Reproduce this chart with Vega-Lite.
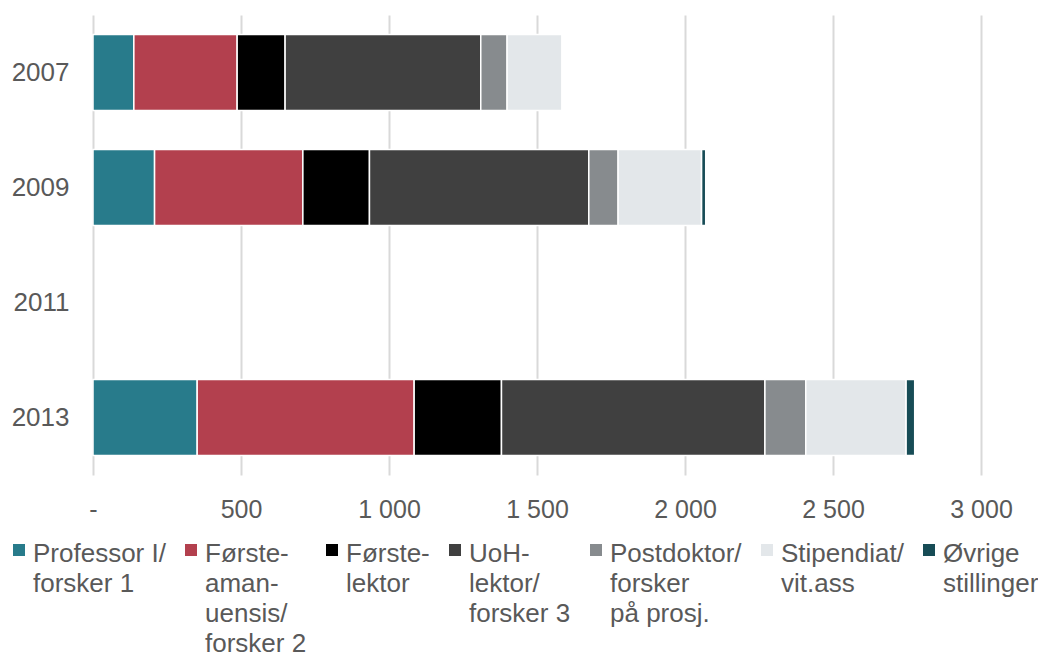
{
  "$schema": "https://vega.github.io/schema/vega-lite/v6.json",
  "autosize": {"type": "none"},
  "padding": {"left": 93, "top": 15, "right": 57, "bottom": 178},
  "width": 888,
  "height": 460,
  "background": "white",
  "data": {"values": [
    {"aar": "2007", "stilling": "Professor I/|forsker 1", "k": 1, "antall": 138},
    {"aar": "2007", "stilling": "Første-|aman-|uensis/|forsker 2", "k": 2, "antall": 349},
    {"aar": "2007", "stilling": "Første-|lektor", "k": 3, "antall": 162},
    {"aar": "2007", "stilling": "UoH-|lektor/|forsker 3", "k": 4, "antall": 661},
    {"aar": "2007", "stilling": "Postdoktor/|forsker|på prosj.", "k": 5, "antall": 89},
    {"aar": "2007", "stilling": "Stipendiat/|vit.ass", "k": 6, "antall": 185},
    {"aar": "2009", "stilling": "Professor I/|forsker 1", "k": 1, "antall": 208},
    {"aar": "2009", "stilling": "Første-|aman-|uensis/|forsker 2", "k": 2, "antall": 501},
    {"aar": "2009", "stilling": "Første-|lektor", "k": 3, "antall": 225},
    {"aar": "2009", "stilling": "UoH-|lektor/|forsker 3", "k": 4, "antall": 741},
    {"aar": "2009", "stilling": "Postdoktor/|forsker|på prosj.", "k": 5, "antall": 99},
    {"aar": "2009", "stilling": "Stipendiat/|vit.ass", "k": 6, "antall": 282},
    {"aar": "2009", "stilling": "Øvrige|stillinger", "k": 7, "antall": 14},
    {"aar": "2013", "stilling": "Professor I/|forsker 1", "k": 1, "antall": 352},
    {"aar": "2013", "stilling": "Første-|aman-|uensis/|forsker 2", "k": 2, "antall": 733},
    {"aar": "2013", "stilling": "Første-|lektor", "k": 3, "antall": 295},
    {"aar": "2013", "stilling": "UoH-|lektor/|forsker 3", "k": 4, "antall": 890},
    {"aar": "2013", "stilling": "Postdoktor/|forsker|på prosj.", "k": 5, "antall": 138},
    {"aar": "2013", "stilling": "Stipendiat/|vit.ass", "k": 6, "antall": 339},
    {"aar": "2013", "stilling": "Øvrige|stillinger", "k": 7, "antall": 29}
  ]},
  "mark": {"type": "bar", "stroke": "white", "strokeWidth": 1.5},
  "encoding": {
    "y": {
      "field": "aar", "type": "nominal",
      "scale": {"domain": ["2007", "2009", "2011", "2013"], "paddingInner": 0.34, "paddingOuter": 0.17},
      "axis": {"title": null, "domain": false, "ticks": false, "labelPadding": 24, "labelOffset": 9, "labelFontSize": 26, "labelColor": "#595959", "labelFont": "Liberation Sans"}
    },
    "x": {
      "field": "antall", "type": "quantitative", "stack": "zero",
      "scale": {"domain": [0, 3000], "nice": false},
      "axis": {"title": null, "values": [0, 500, 1000, 1500, 2000, 2500, 3000], "labelExpr": "datum.value == 0 ? '-' : replace(format(datum.value, ','), ',', ' ')", "labelFlush": false, "domain": false, "ticks": false, "grid": true, "gridColor": "#D9D9D9", "gridWidth": 2, "labelPadding": 31, "labelFontSize": 25, "labelColor": "#595959", "labelFont": "Liberation Sans"}
    },
    "color": {
      "field": "stilling", "type": "nominal",
      "scale": {
        "domain": ["Professor I/|forsker 1", "Første-|aman-|uensis/|forsker 2", "Første-|lektor", "UoH-|lektor/|forsker 3", "Postdoktor/|forsker|på prosj.", "Stipendiat/|vit.ass", "Øvrige|stillinger"],
        "range": ["#287B8B", "#B3404E", "#000000", "#404040", "#878B8E", "#E3E7EA", "#174C56"]
      },
      "legend": {
        "title": null, "orient": "none", "legendX": -87, "legendY": 522, "direction": "horizontal", "columns": 7,
        "labelExpr": "slice(split(datum.label + '| | | ', '|'), 0, 4)",
        "labelFontSize": 26, "labelColor": "#595959", "labelFont": "Liberation Sans",
        "labelLimit": 400, "labelBaseline": "top", "labelOffset": 1,
        "symbolType": "square", "symbolSize": 144, "symbolStrokeWidth": 0,
        "columnPadding": 12, "padding": 0
      }
    },
    "order": {"field": "k", "type": "quantitative"}
  },
  "config": {
    "view": {"stroke": null},
    "style": {"guide-label": {"lineHeight": 30, "dy": -9}}
  }
}
